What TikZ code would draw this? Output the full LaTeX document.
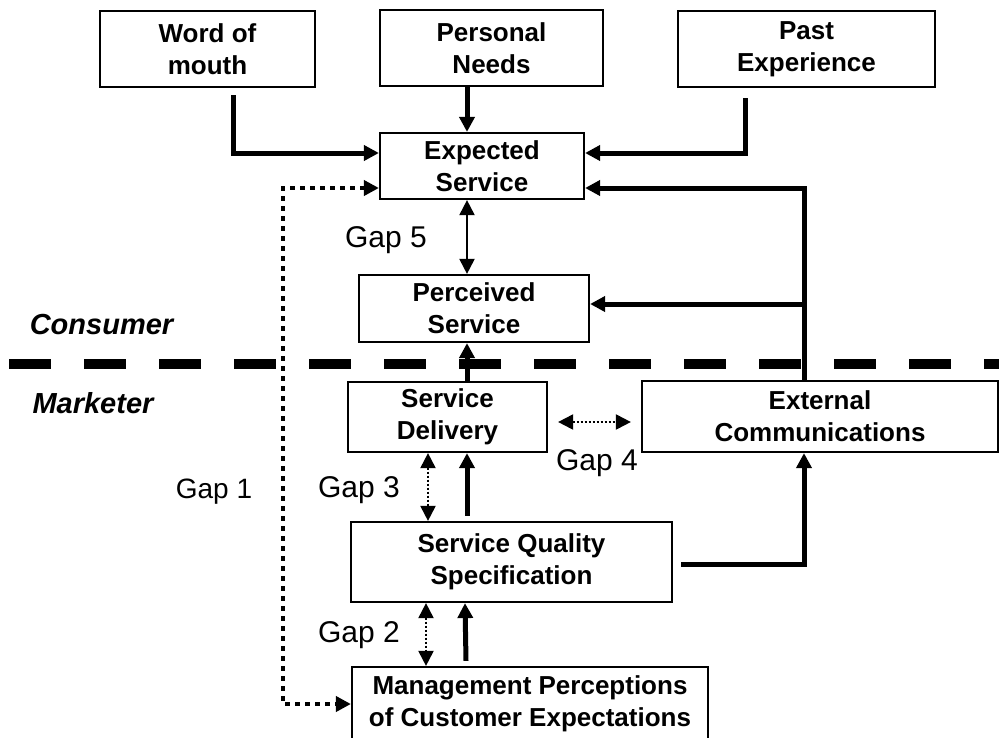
\documentclass[tikz,border=0pt]{standalone}
\usepackage{fontspec}
\setmainfont{Liberation Sans}
\usetikzlibrary{arrows.meta}

\begin{document}
\begin{tikzpicture}[x=1pt,y=-1pt,
  box/.style={draw, line width=2.2pt, align=center, inner sep=0pt,
    font=\fontsize{26}{32}\selectfont\bfseries},
  flow/.style={line width=5pt, -{Triangle[length=15pt,width=15pt]}},
  twoway/.style={line width=2pt, {Triangle[length=15pt,width=15pt]}-{Triangle[length=15pt,width=15pt]}},
  dotway/.style={twoway, dash pattern=on 2pt off 2pt},
  bigdots/.style={line width=4.5pt, dash pattern=on 5pt off 5pt,
    {Triangle[length=15pt,width=15pt]}-{Triangle[length=15pt,width=15pt]}},
  gaplabel/.style={font=\fontsize{30}{36}\selectfont},
  side/.style={font=\fontsize{29}{35}\selectfont\bfseries\itshape}]
\useasboundingbox (0,0) rectangle (999,737);

% boxes
\node[box, minimum width=215pt, minimum height=76pt] (wom) at (207.5,49) {Word of\\mouth};
\node[box, minimum width=223pt, minimum height=76pt] (needs) at (491.5,48) {Personal\\Needs};
\node[box, minimum width=257pt, minimum height=76pt] (past) at (806.5,49) {Past\\Experience};
\node[box, minimum width=204pt, minimum height=66pt] (exp) at (482,166) {Expected\\Service};
\node[box, minimum width=230pt, minimum height=67pt] (perc) at (474,308.5) {Perceived\\Service};
\node[box, minimum width=199pt, minimum height=70pt] (deliv) at (447.5,417) {Service\\Delivery};
\node[box, minimum width=356pt, minimum height=71pt] (extc) at (820,416.5) {External\\Communications};
\node[box, minimum width=321pt, minimum height=80pt] (sqs) at (511.5,562) {Service Quality\\Specification};
\node[box, minimum width=356pt, minimum height=74pt] (mgmt) at (530,704) {Management Perceptions\\of Customer Expectations};

% labels
\node[side] (cons) at (101.5,325) {Consumer};
\node[side] (mark) at (93,403) {Marketer};
\node[gaplabel, font=\fontsize{28}{34}\selectfont] (gap1) at (214,492) {Gap 1};
\node[gaplabel] (gap2) at (359,635.5) {Gap 2};
\node[gaplabel] (gap3) at (359,490) {Gap 3};
\node[gaplabel] (gap4) at (597,463) {Gap 4};
\node[gaplabel] (gap5) at (386,240) {Gap 5};

% consumer / marketer divide
\draw[line width=10pt, dash pattern=on 42pt off 33pt] (9,364) -- (999,364);

% consumer side
\draw[flow] ([xshift=25.5pt,yshift=-7pt]wom.south) |- ([yshift=13pt]exp.west);
\draw[flow] ([xshift=-24.5pt]needs.south) -- ([xshift=-15pt]exp.north);
\draw[flow] ([xshift=-61.5pt,yshift=-10pt]past.south) |- ([yshift=13pt]exp.east);
\draw[twoway] ([xshift=-15pt]exp.south) -- ([xshift=-7pt]perc.north);

% external communications
\coordinate (ec) at ([xshift=-16pt]extc.north);
\draw[flow] (ec) |- ([yshift=-22pt]exp.east);
\draw[flow] ([yshift=4.5pt]perc.east -| ec) -- ([yshift=4.5pt]perc.east);
\draw[flow] ([xshift=8pt,yshift=-2pt]sqs.east) -| ([xshift=-16pt]extc.south);

% marketer side
\draw[flow] ([xshift=19.5pt]deliv.north) -- ([xshift=-7pt]perc.south);
\draw[dotway] ([xshift=10pt,yshift=-5pt]deliv.east) -- ([xshift=-10pt,yshift=-5.5pt]extc.west);
\draw[dotway] ([xshift=-19.5pt]deliv.south) -- ([xshift=-83.5pt]sqs.north);
\draw[flow] ([xshift=-44.5pt,yshift=5pt]sqs.north) -- ([xshift=19.5pt]deliv.south);
\draw[dotway] ([xshift=-85.5pt]sqs.south) -- ([xshift=-104pt]mgmt.north);
\draw[flow] ([xshift=-64pt,yshift=5pt]mgmt.north) -- ([xshift=-46.5pt]sqs.south);

% gap 1
\coordinate (g1) at (283,0);
\draw[bigdots] ([yshift=-22pt]exp.west) -| (g1 |- mgmt.west) -- (mgmt.west);
\end{tikzpicture}
\end{document}
